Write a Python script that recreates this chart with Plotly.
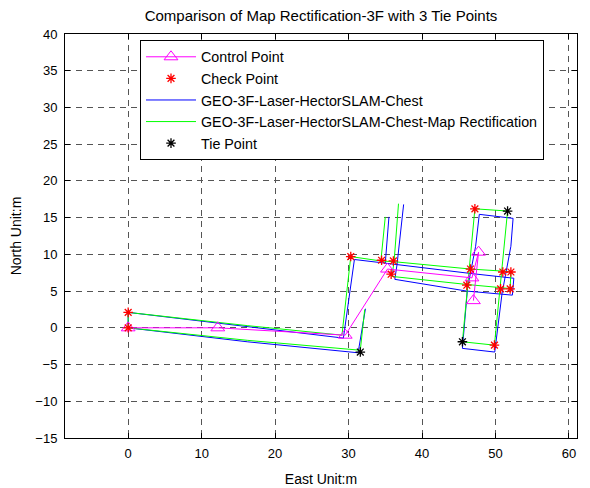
import plotly.graph_objects as go

# ---- data ----
control_x = [0, 12.2, 29.55, 35.3, 46.8, 47.7, 47.0]
control_y = [0, 0, -1.0, 8.0, 6.8, 10.3, 3.7]

check_x = [0, 0, 30.3, 34.5, 36.1, 35.8, 46.6, 46.1, 51.0, 52.1, 50.7, 52.0, 47.2, 49.86]
check_y = [2.1, 0, 9.7, 9.2, 9.1, 7.3, 8.0, 5.8, 7.6, 7.6, 5.3, 5.3, 16.2, -2.36]

tie_x = [31.6, 45.5, 51.65]
tie_y = [-3.3, -1.9, 15.9]

# raw trajectory (blue), segments separated by None
raw_x = [0, 0, None,
         0, 16.2, 31.3, 32.3, None,
         0, 16.2, 29.3, 30.8, 35.0, 35.5, None,
         35.0, 36.6, 46.6, 52.5, 52.3, 46.1, 36.3, 36.6, 37.5, None,
         45.5, 49.9, 50.9, 52.1, 52.4, 47.8, 47.3, 46.2, 45.5]
raw_y = [0, 2.1, None,
         0, -1.9, -3.4, 2.6, None,
         2.1, 0.2, -1.4, 9.3, 8.8, 15.1, None,
         8.8, 8.6, 7.4, 6.75, 4.45, 5.0, 6.6, 8.6, 16.8, None,
         -2.8, -3.3, 4.7, 11.1, 14.9, 15.45, 11.1, 5.4, -2.8]

# rectified trajectory (green)
rect_x = [0, 0, None,
          0, 16.2, 31.6, 32.2, None,
          0, 16.2, 29.1, 30.3, 34.4, 35.0, None,
          34.4, 36.2, 46.6, 52.1, 52.0, 46.1, 35.9, 36.2, 36.8, None,
          45.5, 49.86, 51.65, 47.2, 45.5]
rect_y = [0, 2.1, None,
          0, -1.7, -3.05, 2.5, None,
          2.1, 0.3, -1.0, 9.7, 9.1, 15.1, None,
          9.1, 9.0, 8.0, 7.65, 5.35, 5.9, 7.0, 9.0, 16.9, None,
          -1.9, -2.36, 15.9, 16.2, -1.9]

x_ticks = [0, 10, 20, 30, 40, 50, 60]
y_ticks = [-15, -10, -5, 0, 5, 10, 15, 20, 25, 30, 35, 40]

FONT = "Liberation Sans, Arial, sans-serif"

# the page body has an 8px margin, so the figure is drawn 8px smaller
W, H = 582, 480

fig = go.Figure()
fig.add_trace(go.Scatter(x=raw_x, y=raw_y, mode="lines",
                         line=dict(color="#0000FF", width=1),
                         name="GEO-3F-Laser-HectorSLAM-Chest", legendrank=3))
fig.add_trace(go.Scatter(x=rect_x, y=rect_y, mode="lines",
                         line=dict(color="#00FF00", width=1),
                         name="GEO-3F-Laser-HectorSLAM-Chest-Map Rectification", legendrank=4))
fig.add_trace(go.Scatter(x=control_x, y=control_y, mode="lines+markers",
                         line=dict(color="#FF00FF", width=1),
                         marker=dict(symbol="triangle-up-open", size=12,
                                     color="#FF00FF", line=dict(color="#FF00FF", width=1)),
                         name="Control Point", legendrank=1))
fig.add_trace(go.Scatter(x=check_x, y=check_y, mode="markers",
                         marker=dict(symbol="asterisk-open", size=8,
                                     color="#FF0000", line=dict(color="#FF0000", width=1.3)),
                         name="Check Point", legendrank=2))
fig.add_trace(go.Scatter(x=tie_x, y=tie_y, mode="markers",
                         marker=dict(symbol="asterisk-open", size=8,
                                     color="#000000", line=dict(color="#000000", width=1.3)),
                         name="Tie Point", legendrank=5))

axis_common = dict(showline=True, linecolor="black", linewidth=1, mirror="ticks",
                   ticks="inside", ticklen=5, tickcolor="black", automargin=False,
                   showgrid=True, gridcolor="#555555", gridwidth=1, griddash="6px,5px",
                   zeroline=False, tickfont=dict(family=FONT, size=13, color="black"))

fig.update_layout(
    width=W, height=H,
    margin=dict(l=57, r=13, t=26, b=50, autoexpand=False),
    paper_bgcolor="white", plot_bgcolor="white",
    font=dict(family=FONT, size=13, color="black"),
    title=dict(text="Comparison of Map Rectification-3F with 3 Tie Points",
               x=(321 - 8) / W, xanchor="center", y=1 - 8 / H, yanchor="middle", yref="container",
               font=dict(family=FONT, size=15, color="black"),
               automargin=False),
    xaxis=dict(range=[-8.6, 61.1], tickvals=x_ticks, ticklabelstandoff=3,
               title=dict(text="East Unit:m", standoff=14, font=dict(family=FONT, size=14)),
               **axis_common),
    yaxis=dict(range=[-15, 40], tickvals=y_ticks, ticklabelstandoff=4,
               title=dict(text="North Unit:m", standoff=11, font=dict(family=FONT, size=14)),
               **axis_common),
    legend=dict(x=(140 - 65) / 512, y=(438 - 40) / 404, xanchor="left", yanchor="top",
                bgcolor="white", bordercolor="black", borderwidth=1,
                font=dict(family=FONT, size=14.3, color="black"),
                itemwidth=50, tracegroupgap=0),
    showlegend=True,
)

fig.write_html("out.html")
